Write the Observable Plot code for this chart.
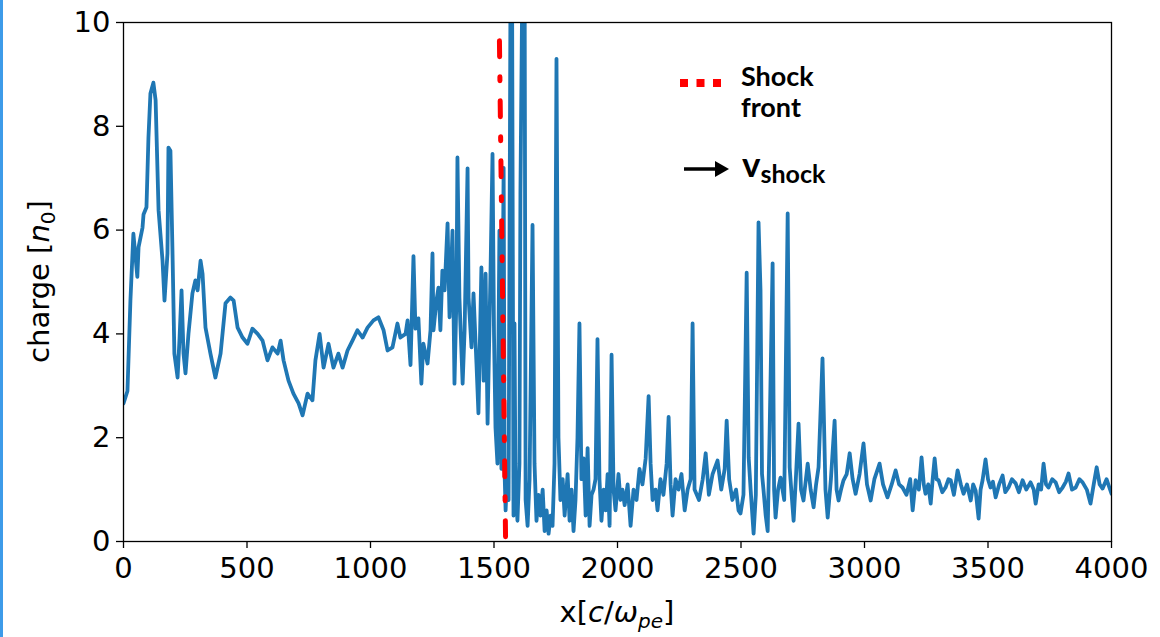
<!DOCTYPE html>
<html><head><meta charset="utf-8">
<script src="https://cdn.jsdelivr.net/npm/d3@7"></script>
<script src="https://cdn.jsdelivr.net/npm/@observablehq/plot@0.6"></script>
<style>
html,body{margin:0;padding:0;background:#fff;}
#wrap{position:relative;width:1160px;height:637px;overflow:hidden;background:#fff;}
#bar{position:absolute;left:0;top:0;width:3px;height:637px;background:#3d9be9;}
</style></head><body>
<div id="wrap"><div id="chart"></div><div id="bar"></div></div>
<script>
// position x [c/omega_pe]
const xs = [0,16,28,40,56,61,77,81,93,101,109,121,130,142,158,166,178,182,190,198,206,219,227,235,243,251,263,279,291,300,312,320,332,352,372,393,413,433,446,462,482,502,522,543,563,583,603,624,636,648,668,688,709,725,745,765,777,794,810,830,850,870,887,907,927,947,968,988,1012,1032,1053,1069,1089,1109,1121,1142,1150,1162,1174,1182,1194,1206,1214,1231,1243,1251,1255,1267,1275,1283,1291,1300,1312,1320,1332,1340,1348,1352,1360,1373,1381,1393,1397,1409,1417,1429,1437,1449,1458,1466,1474,1486,1494,1500,1506,1514,1522,1530,1539,1543,1547,1555,1559,1567,1573,1579,1583,1587,1595,1603,1607,1615,1624,1628,1636,1644,1656,1664,1672,1680,1688,1697,1705,1713,1721,1729,1737,1745,1753,1761,1769,1778,1786,1798,1806,1814,1822,1830,1838,1846,1854,1863,1871,1879,1887,1895,1903,1911,1919,1927,1935,1944,1952,1960,1968,1976,1984,1992,2004,2012,2020,2029,2041,2053,2065,2077,2089,2101,2114,2126,2134,2142,2154,2162,2174,2186,2199,2207,2215,2223,2235,2247,2259,2272,2284,2296,2304,2312,2330,2345,2357,2370,2385,2405,2420,2434,2442,2452,2465,2480,2490,2498,2510,2523,2531,2539,2551,2560,2571,2579,2585,2591,2600,2608,2616,2628,2634,2640,2650,2660,2675,2689,2697,2705,2713,2722,2733,2743,2753,2770,2782,2794,2804,2814,2830,2834,2842,2851,2864,2879,2887,2895,2905,2915,2928,2940,2952,2964,2980,2996,3010,3025,3040,3061,3075,3093,3110,3126,3140,3154,3170,3185,3195,3207,3220,3231,3240,3247,3258,3268,3276,3284,3292,3300,3315,3328,3340,3349,3362,3377,3390,3401,3415,3430,3440,3450,3462,3470,3478,3490,3500,3510,3520,3531,3545,3559,3570,3583,3597,3612,3625,3640,3655,3672,3685,3693,3705,3715,3725,3735,3745,3760,3774,3788,3802,3815,3826,3840,3855,3870,3883,3900,3915,3928,3940,3952,3964,3980,4000];
// charge [n0]
const charge = [2.66,2.9,4.64,5.93,5.1,5.67,6.05,6.3,6.44,7.78,8.63,8.84,8.5,6.38,5.41,4.64,5.55,7.59,7.53,5.67,3.62,3.16,3.93,4.84,3.62,3.24,4.0,4.78,5.03,4.84,5.41,5.16,4.12,3.62,3.16,3.62,4.59,4.7,4.64,4.12,3.93,3.81,4.1,4.0,3.87,3.49,3.74,3.62,3.87,3.49,3.1,2.85,2.66,2.43,2.85,2.72,3.49,4.0,3.35,3.81,3.35,3.62,3.35,3.68,3.87,4.07,3.93,4.12,4.26,4.32,4.07,3.68,3.74,4.2,3.93,4.0,4.26,3.4,5.5,4.1,4.3,3.04,3.81,3.43,4.07,5.55,4.07,4.64,4.89,4.07,5.22,4.84,6.13,4.32,5.99,3.04,4.7,7.4,4.7,3.04,4.07,7.19,4.7,3.74,4.78,3.43,2.47,5.28,3.1,5.16,2.27,5.22,7.47,4.0,2.2,1.5,5.99,1.4,7.2,1.3,0.6,1.5,0.8,11,11,0.5,4.2,1.0,0.4,1.5,6.7,11,11,0.8,0.3,1.2,6.1,1.5,0.4,0.9,0.5,1.0,0.2,0.6,0.15,0.5,0.3,1.5,9.3,2.0,0.8,1.2,0.5,1.3,0.4,1.0,0.2,0.8,2.0,4.2,1.2,1.6,0.5,1.8,0.3,0.9,1.0,1.2,3.9,1.2,0.4,1.0,0.6,1.3,0.3,3.6,1.0,0.6,1.3,0.8,1.0,0.7,1.1,0.3,1.0,0.8,1.4,1.1,1.6,2.8,1.5,0.8,1.0,0.6,1.2,0.9,1.5,2.4,1.1,0.5,1.2,1.0,1.3,0.6,1.0,1.2,4.2,1.0,0.8,1.2,1.7,0.9,1.3,1.56,1.0,1.4,2.33,1.2,0.8,1.0,0.6,0.54,0.9,5.18,1.62,1.0,0.15,0.9,6.15,4.84,1.3,1.0,0.5,0.2,2.14,5.36,1.0,0.46,1.0,1.23,0.8,6.32,1.43,0.9,0.4,1.2,2.27,1.0,0.79,1.5,1.0,0.66,1.1,1.43,3.53,2.72,1.0,0.46,1.2,2.33,1.0,0.79,1.0,1.18,1.3,1.7,1.2,0.92,1.3,1.89,1.1,0.79,1.2,1.5,1.1,0.85,1.1,1.37,1.1,1.04,0.9,1.2,0.6,1.18,1.0,1.62,1.1,0.92,1.1,0.73,1.2,1.6,1.2,1.18,0.95,1.04,1.2,1.18,0.9,1.37,1.1,0.92,1.1,0.79,1.1,0.98,0.44,1.0,1.18,1.58,1.2,1.04,1.15,0.85,1.1,1.27,0.95,1.04,1.2,1.12,0.95,1.18,1.0,1.14,1.0,0.73,1.1,1.0,1.5,1.1,1.04,1.2,1.14,0.95,1.04,1.15,1.31,1.0,1.04,1.2,1.14,1.0,0.73,1.1,1.43,1.1,1.02,1.2,0.92];
// shock front line endpoints
const shockX = [1522, 1547];
const shockY = [9.65, 0];
const xTicks = [0,500,1000,1500,2000,2500,3000,3500,4000];
const yTicks = [0,2,4,6,8,10];

const series = xs.map((x,i)=>({x, y: charge[i]}));
const shock = shockX.map((x,i)=>({x, y: shockY[i]}));

const W = 1160, H = 637;
const mL = 123, mR = 49, mT = 22, mB = 96;
const FS = 29;

const svg = Plot.plot({
  width: W, height: H,
  marginLeft: mL, marginRight: mR, marginTop: mT, marginBottom: mB,
  style: {fontFamily: "DejaVu Sans", fontSize: FS + "px", color: "#000", background: "#fff", overflow: "visible"},
  x: {domain: [0, 4000], ticks: xTicks, tickFormat: d => String(d), label: null},
  y: {domain: [0, 10], ticks: yTicks, tickFormat: d => String(d), label: null},
  marks: [
    Plot.line(series, {x: "x", y: "y", stroke: "#1f77b4", strokeWidth: 3.8, clip: true, strokeLinejoin: "round"}),
    Plot.line(shock, {x: "x", y: "y", stroke: "#ff0000", strokeWidth: 5, strokeDasharray: "16,20,4,20"}),
    Plot.frame({stroke: "#000", strokeWidth: 1.3}),
    Plot.axisX({ticks: xTicks, tickSize: 7, tickPadding: 9, tickFormat: d => String(d), label: null, fontSize: FS, strokeWidth: 1.3}),
    Plot.axisY({ticks: yTicks, tickSize: 7, tickPadding: 6, tickFormat: d => String(d), label: null, fontSize: FS, strokeWidth: 1.3})
  ]
});
document.getElementById("chart").appendChild(svg);

const s = d3.select(svg);
const ns = "DejaVu Sans";
// y axis label
const yl = s.append("text")
  .attr("transform", `translate(49,${mT + (H - mT - mB)/2}) rotate(-90)`)
  .attr("text-anchor", "middle")
  .attr("font-family", ns).attr("font-size", FS).attr("fill", "#000");
yl.append("tspan").text("charge [");
yl.append("tspan").attr("font-style", "italic").text("n");
yl.append("tspan").attr("font-size", 20).attr("dy", 6).text("0");
yl.append("tspan").attr("dy", -6).text("]");

// x axis label
const xl = s.append("text")
  .attr("x", mL + (W - mL - mR)/2).attr("y", 622)
  .attr("text-anchor", "middle")
  .attr("font-family", ns).attr("font-size", FS).attr("fill", "#000");
xl.append("tspan").text("x[");
xl.append("tspan").attr("font-style", "italic").text("c");
xl.append("tspan").text("/");
xl.append("tspan").attr("font-style", "italic").text("ω");
xl.append("tspan").attr("font-style", "italic").attr("font-size", 20).attr("dy", 6).text("pe");
xl.append("tspan").attr("dy", -6).text("]");

// legend
const lf = "Lato, 'Open Sans', sans-serif";
const g = s.append("g").attr("text-anchor", "start");
g.append("line").attr("x1", 680).attr("x2", 723).attr("y1", 83).attr("y2", 83)
  .attr("stroke", "#ff0000").attr("stroke-width", 8).attr("stroke-dasharray", "8,8.5");
g.append("text").attr("x", 741).attr("y", 86).attr("text-anchor", "start").attr("font-family", lf).attr("font-weight", 700)
  .attr("font-size", 27).attr("fill", "#000").text("Shock");
g.append("text").attr("x", 741).attr("y", 117).attr("text-anchor", "start").attr("font-family", lf).attr("font-weight", 700)
  .attr("font-size", 27).attr("fill", "#000").text("front");
g.append("line").attr("x1", 684).attr("x2", 716).attr("y1", 169).attr("y2", 169)
  .attr("stroke", "#000").attr("stroke-width", 3.5);
g.append("path").attr("d", "M715,161 L729,169 L715,177 Z").attr("fill", "#000");
const vt = g.append("text").attr("x", 742).attr("y", 177).attr("text-anchor", "start").attr("font-family", lf).attr("font-weight", 700).attr("fill", "#000");
vt.append("tspan").attr("font-size", 35).text("v");
vt.append("tspan").attr("font-size", 25).attr("dy", 6).text("shock");
</script>
</body></html>
